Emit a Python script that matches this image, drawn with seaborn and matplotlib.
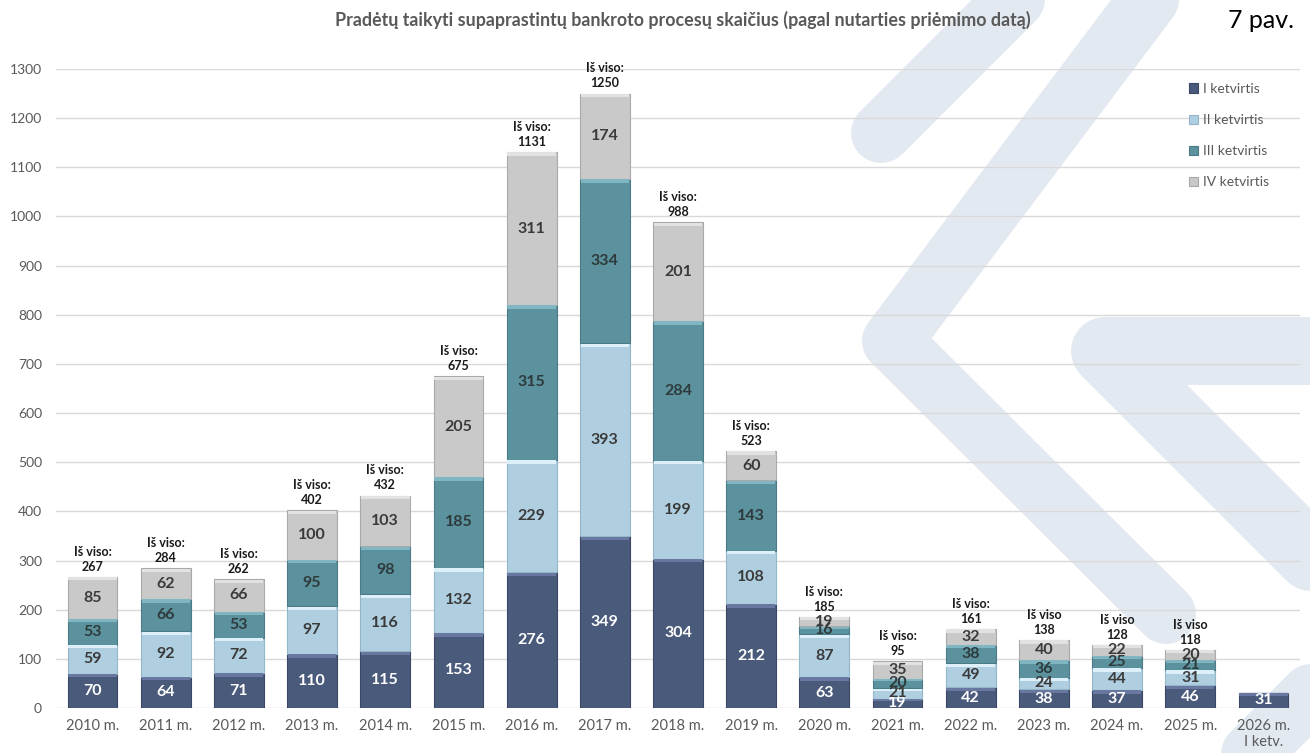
import matplotlib
matplotlib.use("Agg")
import matplotlib.pyplot as plt
from matplotlib.lines import Line2D
from matplotlib.patches import Patch
import seaborn as sns
import pandas as pd
import numpy as np

# ---------------- data ----------------
years = ["2010 m.", "2011 m.", "2012 m.", "2013 m.", "2014 m.", "2015 m.",
         "2016 m.", "2017 m.", "2018 m.", "2019 m.", "2020 m.", "2021 m.",
         "2022 m.", "2023 m.", "2024 m.", "2025 m.", "2026 m.\nI ketv."]
q1 = [70, 64, 71, 110, 115, 153, 276, 349, 304, 212, 63, 19, 42, 38, 37, 46, 31]
q2 = [59, 92, 72, 97, 116, 132, 229, 393, 199, 108, 87, 21, 49, 24, 44, 31, 0]
q3 = [53, 66, 53, 95, 98, 185, 315, 334, 284, 143, 16, 20, 38, 36, 25, 21, 0]
q4 = [85, 62, 66, 100, 103, 205, 311, 174, 201, 60, 19, 35, 32, 40, 22, 20, 0]
totals = [267, 284, 262, 402, 432, 675, 1131, 1250, 988, 523, 185, 95, 161,
          138, 128, 118, None]
total_captions = ["Iš viso:"] * 13 + ["Iš viso"] * 3 + [""]
series_names = ["I ketvirtis", "II ketvirtis", "III ketvirtis", "IV ketvirtis"]
y_ticks = list(range(0, 1301, 100))
title = "Pradėtų taikyti supaprastintų bankroto procesų skaičius (pagal nutarties priėmimo datą)"
fig_label = "7 pav."

# ---------------- style ----------------
sns.set_theme(style="white")
plt.rcParams["font.family"] = ["Lato", "DejaVu Sans"]

W, H = 1310, 753
fig = plt.figure(figsize=(W / 100, H / 100), dpi=100)
fig.patch.set_facecolor("white")

# background watermark (decorative logo bands), pixel coordinates
wm_color = "#e3e9f1"
bands = [
    ([(881, 133), (1025, -11)], 60),
    ([(1165, -22), (892, 341), (1166, 614)], 60),
    ([(1340, 351), (1105, 351), (1340, 586)], 68),
    ([(1205, 800), (1400, 605)], 60),
]
for pts, w in bands:
    xs = [p[0] / W for p in pts]
    ys = [1 - p[1] / H for p in pts]
    fig.add_artist(Line2D(xs, ys, transform=fig.transFigure, color=wm_color,
                          lw=w * 0.72, solid_capstyle="round",
                          solid_joinstyle="round", zorder=0))

ax = fig.add_axes([56 / W, 45 / H, (1300 - 56) / W, (708 - 69) / H])
ax.set_facecolor("none")

df = pd.DataFrame({"year": years, "q1": q1, "q2": q2, "q3": q3, "q4": q4})
cols = ["q1", "q2", "q3", "q4"]
colors = ["#4a5a7b", "#afcfe0", "#5b929e", "#c9c9c9"]
edges = ["#3b4865", "#93b6c8", "#4a7b86", "#a9a9a9"]
highlights = ["#6878a0", "#ddeff8", "#7fb6c2", "#e2e2e2"]
text_colors = ["white", "#3a3a3a", "#2e3a3c", "#3a3a3a"]
bar_width = 0.68

bottom = np.zeros(len(years))
for col, c, ec in zip(cols, colors, edges):
    sns.barplot(data=df, x="year", y=col, color=c, saturation=1,
                errorbar=None, width=bar_width, ax=ax, bottom=bottom.copy(),
                edgecolor=ec, linewidth=0.8)
    bottom = bottom + df[col].to_numpy()

# bevel highlight strip at the top of each segment
n = len(years)
xpos = np.arange(n)
bottom = np.zeros(n)
for col, hc in zip(cols, highlights):
    vals = df[col].to_numpy().astype(float)
    strip = np.where(vals > 0, np.minimum(7.0, vals * 0.25), 0.0)
    ax.bar(xpos, strip, bottom=bottom + vals - strip - 0.6,
           width=bar_width * 0.975, color=hc, linewidth=0, zorder=3)
    bottom = bottom + vals

# segment labels
for i in range(n):
    b = 0
    for j, col in enumerate(cols):
        v = df[col].iloc[i]
        if v > 0:
            ax.text(i, b + v / 2, str(v), ha="center", va="center",
                    color=text_colors[j], fontsize=11.5, fontweight="bold",
                    zorder=5)
        b += v

# totals
for i, (tot, cap) in enumerate(zip(totals, total_captions)):
    if tot is None:
        continue
    ax.annotate(f"{cap}\n{tot}", xy=(i, tot), xytext=(0, 3),
                textcoords="offset points", ha="center", va="bottom",
                fontsize=9, fontweight="bold", color="#1a1a1a",
                linespacing=1.3, zorder=6)

ax.set_ylim(0, 1300)
ax.set_xlim(-0.5, n - 0.5)
ax.set_yticks(y_ticks)
ax.set_xlabel("")
ax.set_ylabel("")
ax.grid(axis="y", color="#d9d9d9", linewidth=1)
ax.set_axisbelow(True)
for s in ax.spines.values():
    s.set_visible(False)
ax.tick_params(axis="y", length=0, pad=10, labelsize=10, labelcolor="#595959")
ax.tick_params(axis="x", length=0, pad=8, labelsize=10.5, labelcolor="#595959")

# legend
handles = [Patch(facecolor=c, edgecolor=ec, linewidth=0.8)
           for c, ec in zip(colors, edges)]
fig.legend(handles, series_names, loc="upper left",
           bbox_to_anchor=(1182 / W, 1 - 76 / H), frameon=False, fontsize=10,
           handlelength=0.65, handleheight=0.65, handletextpad=0.35,
           labelspacing=1.38, labelcolor="#595959", borderpad=0)

fig.text(683 / W, 1 - 26 / H, title, ha="center", va="baseline",
         fontsize=12.9, fontweight="bold", color="#595959")
fig.text(1294 / W, 1 - 28 / H, fig_label, ha="right", va="baseline",
         fontsize=18, color="black")

fig.savefig("out.png", dpi=100, facecolor="white")
